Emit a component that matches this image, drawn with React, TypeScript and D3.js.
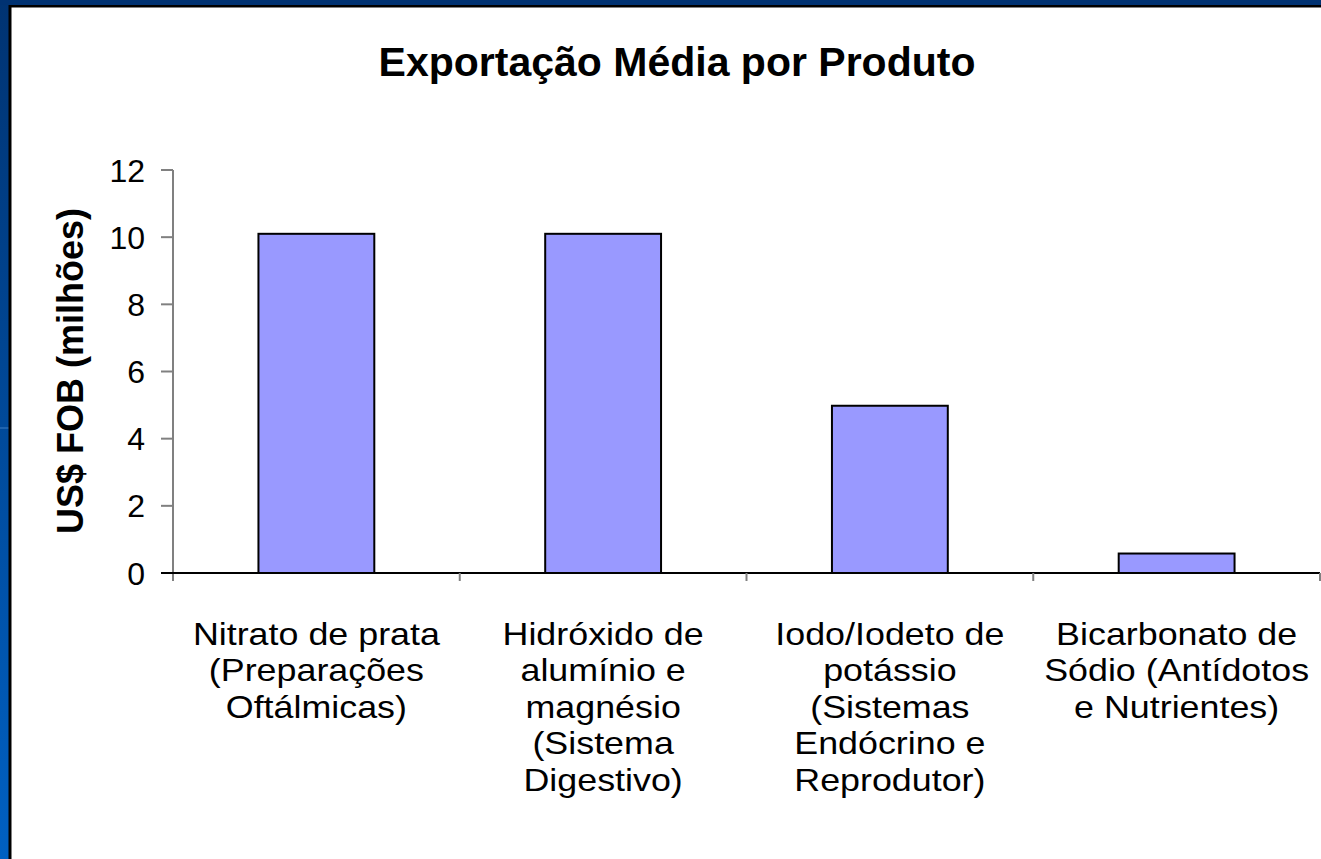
import React from 'react';
import * as d3 from 'd3';

const categories = [
  ['Nitrato de prata', '(Preparações', 'Oftálmicas)'],
  ['Hidróxido de', 'alumínio e', 'magnésio', '(Sistema', 'Digestivo)'],
  ['Iodo/Iodeto de', 'potássio', '(Sistemas', 'Endócrino e', 'Reprodutor)'],
  ['Bicarbonato de', 'Sódio (Antídotos', 'e Nutrientes)'],
];
const values = [10.1, 10.1, 4.98, 0.58];
const yTicks = [0, 2, 4, 6, 8, 10, 12];

const W = 1321;
const H = 859;
const font = 'Liberation Sans, Arial, Helvetica, sans-serif';

export default function App() {
  const margin = { left: 173, right: 1320, top: 170, bottom: 573 };
  const keys = categories.map((_, i) => String(i));

  const x = d3.scaleBand<string>()
    .domain(keys)
    .range([margin.left, margin.right])
    .paddingInner(0.596)
    .paddingOuter(0.298);

  const y = d3.scaleLinear()
    .domain([0, 12])
    .range([margin.bottom, margin.top]);

  const step = x.step();
  const bounds = d3.range(categories.length + 1).map(i => margin.left + i * step);

  return (
    <svg width={W} height={H} style={{ position: 'absolute', left: 0, top: 0 }}>
      <defs>
        <linearGradient id="side" x1="0" y1="0" x2="0" y2="1">
          <stop offset="0" stopColor="#003372" />
          <stop offset="1" stopColor="#0060c2" />
        </linearGradient>
      </defs>
      {/* slide frame */}
      <rect x={0} y={0} width={W} height={H} fill="url(#side)" />
      <rect x={0} y={0} width={W} height={5} fill="#003272" />
      <line x1={0} x2={9} y1={428} y2={428} stroke="#3f7fc4" strokeWidth={1} />
      <rect x={8.5} y={5} width={W} height={H} fill="#000" />
      <rect x={11.5} y={7.5} width={W} height={H} fill="#fff" />

      <text x={677} y={76} textAnchor="middle" fontFamily={font} fontWeight="bold" fontSize={41}>
        Exportação Média por Produto
      </text>

      <text
        transform="translate(83, 371) rotate(-90)"
        textAnchor="middle"
        fontFamily={font}
        fontWeight="bold"
        fontSize={36}
      >
        US$ FOB (milhões)
      </text>

      {/* y axis */}
      <line x1={margin.left} x2={margin.left} y1={margin.top} y2={margin.bottom + 8} stroke="#808080" strokeWidth={2} />
      {yTicks.map(t => (
        <g key={t}>
          <line x1={margin.left - 12} x2={margin.left} y1={y(t)} y2={y(t)} stroke="#808080" strokeWidth={2} />
          <text x={margin.left - 28} y={y(t)} dy="0.36em" textAnchor="end" fontFamily={font} fontSize={32}>
            {t}
          </text>
        </g>
      ))}

      {/* bars */}
      {values.map((v, i) => (
        <rect
          key={i}
          x={x(String(i))}
          y={y(v)}
          width={x.bandwidth()}
          height={y(0) - y(v)}
          fill="#9999ff"
          stroke="#000"
          strokeWidth={2}
        />
      ))}

      {/* x axis */}
      <line x1={margin.left - 12} x2={margin.right} y1={margin.bottom} y2={margin.bottom} stroke="#000" strokeWidth={2} />
      {bounds.slice(1).map((b, i) => (
        <line key={i} x1={b} x2={b} y1={margin.bottom} y2={margin.bottom + 8} stroke="#808080" strokeWidth={2} />
      ))}
      {categories.map((lines, i) => {
        const cx = (x(String(i)) ?? 0) + x.bandwidth() / 2;
        return (
          <text
            key={i}
            transform={`translate(${cx}, 645) scale(1.12, 1)`}
            textAnchor="middle"
            fontFamily={font}
            fontSize={32}
          >
            {lines.map((l, j) => (
              <tspan key={j} x={0} y={j * 36.5}>
                {l}
              </tspan>
            ))}
          </text>
        );
      })}
    </svg>
  );
}
